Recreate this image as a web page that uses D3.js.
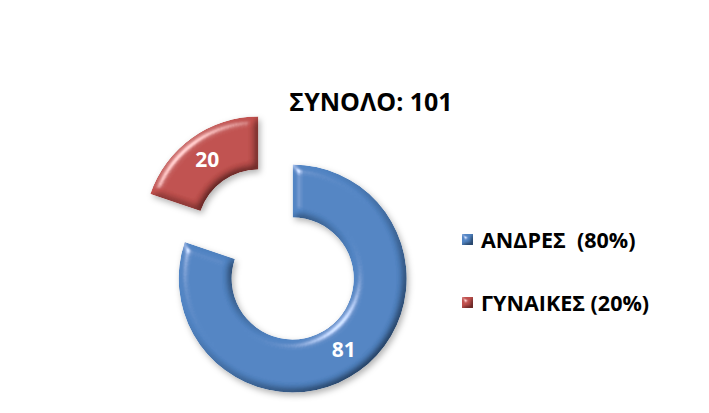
<!DOCTYPE html>
<html>
<head>
<meta charset="utf-8">
<script src="https://cdn.jsdelivr.net/npm/d3@7"></script>
<style>
  body { margin: 0; background: #fff; }
  svg { display: block; }
</style>
</head>
<body>
<svg id="chart"></svg>
<script>
// chart data
const categories = ["ΑΝΔΡΕΣ", "ΓΥΝΑΙΚΕΣ"];
const values = [81, 20];
const legendLabels = ["ΑΝΔΡΕΣ  (80%)", "ΓΥΝΑΙΚΕΣ (20%)"];
const colors = ["#5184C3", "#C0504D"];
const total = 101;

const width = 709, height = 413;
const cx = 275.5, cy = 254.5;
const outerR = 114, innerR = 61, explode = 29.5;

const svg = d3.select("#chart")
  .attr("width", width)
  .attr("height", height);

//bevel look: flat middle, lit top-left edges, dark bottom-right edges
const defs = svg.append("defs");
function makeBevel(id, blur, scale) {
  const f = defs.append("filter")
    .attr("id", id)
    .attr("x", "-20%").attr("y", "-20%")
    .attr("width", "140%").attr("height", "140%");
  f.append("feGaussianBlur")
    .attr("in", "SourceAlpha").attr("stdDeviation", blur).attr("result", "blur");
  f.append("feDiffuseLighting")
    .attr("in", "blur").attr("surfaceScale", scale)
    .attr("diffuseConstant", 1 / Math.sin(55 * Math.PI / 180))
    .attr("lighting-color", "#ffffff").attr("result", "diff")
    .append("feDistantLight").attr("azimuth", 225).attr("elevation", 55);
  f.append("feComposite")
    .attr("in", "SourceGraphic").attr("in2", "diff")
    .attr("operator", "arithmetic")
    .attr("k1", 1).attr("k2", 0).attr("k3", 0).attr("k4", 0).attr("result", "lit");
  f.append("feSpecularLighting")
    .attr("in", "blur").attr("surfaceScale", scale)
    .attr("specularConstant", 0.7).attr("specularExponent", 40)
    .attr("lighting-color", "#ffffff").attr("result", "spec")
    .append("feDistantLight").attr("azimuth", 225).attr("elevation", 40);
  f.append("feComposite")
    .attr("in", "spec").attr("in2", "SourceAlpha")
    .attr("operator", "in").attr("result", "specOut");
  f.append("feComposite")
    .attr("in", "lit").attr("in2", "specOut")
    .attr("operator", "arithmetic")
    .attr("k1", 0).attr("k2", 1).attr("k3", 0.8).attr("k4", 0).attr("result", "sum");
  f.append("feComposite")
    .attr("in", "sum").attr("in2", "SourceAlpha")
    .attr("operator", "in");
}
makeBevel("bevel", 4.5, 5);
makeBevel("bevelSmall", 2, 3);

const shadow = defs.append("filter")
  .attr("id", "shadow")
  .attr("x", "-20%").attr("y", "-20%")
  .attr("width", "140%").attr("height", "140%");
shadow.append("feDropShadow")
  .attr("dx", 2).attr("dy", 3).attr("stdDeviation", 3)
  .attr("flood-color", "#000").attr("flood-opacity", 0.3);

const data = categories.map((c, i) => ({name: c, value: values[i], color: colors[i]}));

const pie = d3.pie()
  .sort(null)
  .value(d => d.value);

const arc = d3.arc()
  .innerRadius(innerR)
  .outerRadius(outerR);

const arcs = pie(data);

const slices = svg.append("g")
  .attr("transform", `translate(${cx},${cy})`);

const sliceG = slices.selectAll("g")
  .data(arcs)
  .join("g")
  .attr("transform", d => {
    const a = (d.startAngle + d.endAngle) / 2;
    return `translate(${explode * Math.sin(a)},${-explode * Math.cos(a)})`;
  });

sliceG.append("g")
  .attr("filter", "url(#shadow)")
  .append("path")
  .attr("d", arc)
  .attr("fill", d => d.data.color)
  .attr("filter", "url(#bevel)");

sliceG.append("text")
  .attr("transform", d => `translate(${arc.centroid(d)})`)
  .attr("text-anchor", "middle")
  .attr("dy", "0.36em")
  .attr("font-family", "'Open Sans', sans-serif")
  .attr("font-weight", "bold")
  .attr("font-size", "21px")
  .attr("fill", "#fff")
  .text(d => d.data.value);

//title
svg.append("text")
  .attr("x", 371)
  .attr("y", 111)
  .attr("text-anchor", "middle")
  .attr("font-family", "'Open Sans', sans-serif")
  .attr("font-weight", "bold")
  .attr("font-size", "25px")
  .attr("fill", "#000")
  .text(`ΣΥΝΟΛΟ: ${total}`);

//legend
const legend = svg.append("g")
  .attr("transform", "translate(462,234)");

const items = legend.selectAll("g")
  .data(legendLabels)
  .join("g")
  .attr("transform", (d, i) => `translate(0,${i * 63})`);

items.append("rect")
  .attr("width", 11)
  .attr("height", 11)
  .attr("fill", (d, i) => colors[i])
  .attr("filter", "url(#bevelSmall)");

items.append("text")
  .attr("x", 19)
  .attr("y", 14)
  .attr("font-family", "'Open Sans', sans-serif")
  .attr("font-weight", "bold")
  .attr("font-size", "21.5px")
  .attr("fill", "#000")
  .attr("xml:space", "preserve")
  .style("white-space", "pre")
  .text(d => d);
</script>
</body>
</html>
